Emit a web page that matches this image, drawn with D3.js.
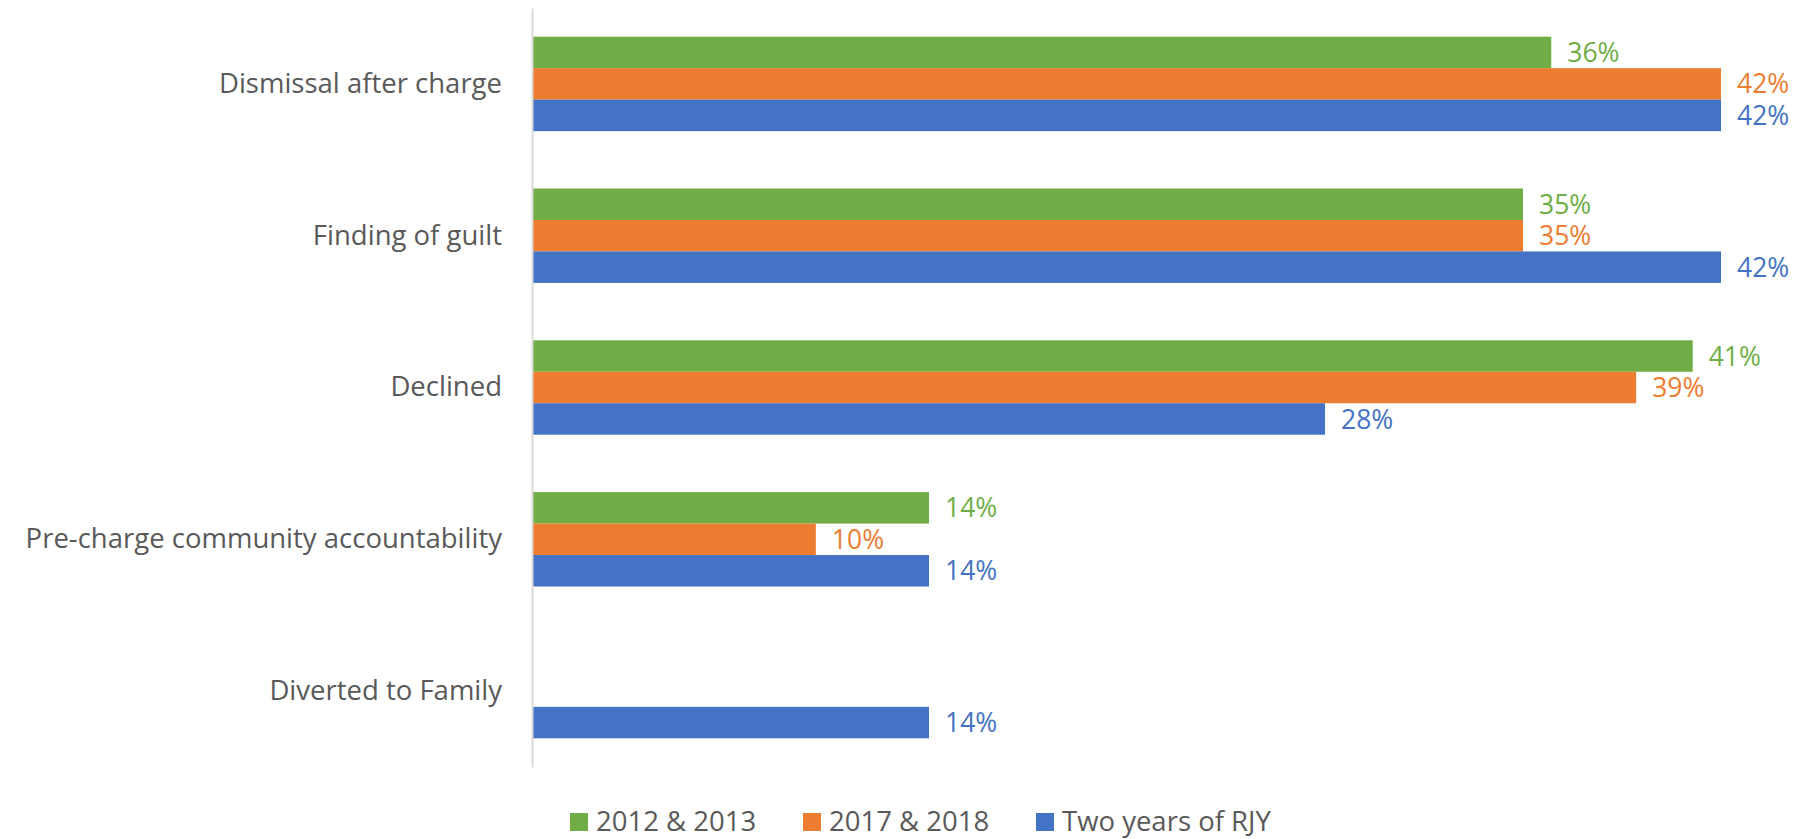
<html>
<script src='https://d3js.org/d3.v7.min.js'></script>
<style>
body {margin:0; background:white;}
text {font-family: "Open Sans", sans-serif; fill:#595959;}
</style>
<body>
<svg width=1798 height=839></svg>
<script>
var categories = ["Dismissal after charge", "Finding of guilt", "Declined", "Pre-charge community accountability", "Diverted to Family"]
var series = ["2012 & 2013", "2017 & 2018", "Two years of RJY"]
var colors = ["#70ad47", "#ed7d31", "#4472c4"]
var s2012 = [36, 35, 41, 14, null]
var s2017 = [42, 35, 39, 10, null]
var sRJY = [42, 42, 28, 14, 14]
var values = [s2012, s2017, sRJY]

var svg = d3.select("svg")
var x = d3.scaleLinear().domain([0, 42]).range([533, 1721])
var y = d3.scaleBand().domain(categories).range([8, 767]).paddingInner(0.378).paddingOuter(0.189)
var ys = d3.scaleBand().domain(series).range([0, y.bandwidth()])

var rows = []
categories.forEach(function(c, i) {
  series.forEach(function(s, j) {
    if (values[j][i] != null) rows.push({cat: c, ser: s, v: values[j][i], col: colors[j]})
  })
})

// bars
svg.append("g").selectAll("rect").data(rows).enter().append("rect")
  .attr("x", x(0))
  .attr("y", function(d) { return y(d.cat) + ys(d.ser); })
  .attr("width", function(d) { return x(d.v) - x(0); })
  .attr("height", ys.bandwidth())
  .attr("fill", function(d) { return d.col; })

// value labels
svg.append("g").selectAll("text").data(rows).enter().append("text")
  .attr("x", function(d) { return x(d.v) + 16; })
  .attr("y", function(d) { return y(d.cat) + ys(d.ser) + ys.bandwidth() / 2; })
  .attr("dy", "0.36em")
  .style("font-size", "26.5px")
  .style("fill", function(d) { return d.col; })
  .text(function(d) { return d.v + "%"; })

// category axis
var ax = svg.append("g").attr("transform", "translate(532,0)")
  .call(d3.axisLeft(y).tickSize(0).tickPadding(30))
ax.select(".domain").attr("stroke", "#d9d9d9").attr("stroke-width", 2)
ax.selectAll("text").style("font-size", "27.5px").attr("fill", "#595959").attr("font-family", null)

// legend
var legX = [570, 803, 1036]
var leg = svg.append("g").selectAll("g").data(series).enter().append("g")
  .attr("transform", function(d, i) { return "translate(" + legX[i] + ",813)"; })
leg.append("rect").attr("width", 18).attr("height", 18).attr("fill", function(d, i) { return colors[i]; })
leg.append("text").attr("x", 26).attr("y", 9).attr("dy", "0.34em")
  .style("font-size", "27.5px").text(function(d) { return d; })
</script>
</body>
</html>
